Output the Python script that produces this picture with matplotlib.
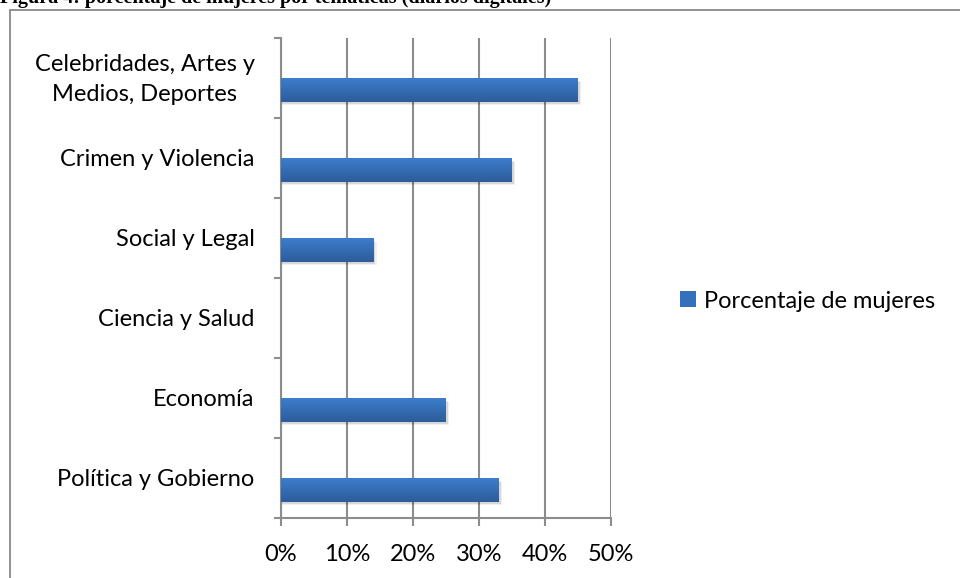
import numpy as np
import matplotlib
matplotlib.use('Agg')
import matplotlib.pyplot as plt
import matplotlib.transforms as mtransforms
from matplotlib.patches import Rectangle
from matplotlib.colors import LinearSegmentedColormap

categories = ['Política y Gobierno', 'Economía', 'Ciencia y Salud',
              'Social y Legal', 'Crimen y Violencia',
              'Celebridades, Artes y\nMedios, Deportes']
values = [33, 25, 0, 14, 35, 45]
series_name = 'Porcentaje de mujeres'
title = 'Figura 4: porcentaje de mujeres por temáticas (diarios digitales)'
xticks = [0, 10, 20, 30, 40, 50]

plt.rcParams['font.family'] = ['Lato', 'DejaVu Sans']
fs = 17

W, H = 960, 578
fig = plt.figure(figsize=(W / 100, H / 100), dpi=100)
ax = fig.add_axes([281 / W, (H - 518) / H, 330 / W, 480 / H])

grid_c = '#8c8c8c'
bar_top = '#3d7dcc'
bar_bot = '#2d5c9a'
cmap = LinearSegmentedColormap.from_list('bar', [bar_top, bar_bot])

offset = 0.15
height = 0.29
ypos = np.arange(len(categories))
for y, v in zip(ypos, values):
    if v <= 0:
        continue
    yc = y - offset
    # soft shadow under the bar
    for k, a in zip([1.0, 0.6], [0.06, 0.1]):
        ax.add_patch(Rectangle((0, yc - height / 2 - 0.045 * k), v + 0.5 * k, height,
                               facecolor='black', alpha=a, lw=0, zorder=2))
    bar = ax.barh(yc, v, height=height, color=bar_top, zorder=3)
    grad = np.linspace(0, 1, 50).reshape(-1, 1)
    im = ax.imshow(grad, cmap=cmap, aspect='auto', zorder=4,
                   extent=(0, v, yc - height / 2, yc + height / 2))
    im.set_clip_path(bar.patches[0])

ax.set_xlim(0, 50)
ax.set_ylim(-0.5, len(categories) - 0.5)
ax.set_xticks(xticks)
ax.set_xticklabels([f'{t}%' for t in xticks])
ax.set_yticks(ypos)
ax.set_yticklabels(categories, multialignment='center', linespacing=1.55)
ax.set_yticks(np.arange(len(categories) + 1) - 0.5, minor=True)
ax.tick_params(axis='y', which='major', length=0, pad=19, labelsize=fs)
ax.tick_params(axis='y', which='minor', length=5, width=1.5, color=grid_c, direction='out')
ax.tick_params(axis='x', length=6, width=1.5, color=grid_c, direction='out', pad=13, labelsize=fs)
ax.xaxis.grid(True, color=grid_c, lw=1.5, zorder=1)
ax.set_axisbelow(True)
for s in ['top', 'right']:
    ax.spines[s].set_visible(False)
for s in ['left', 'bottom']:
    ax.spines[s].set_color(grid_c)
    ax.spines[s].set_linewidth(1.5)

# two-line label sits a little higher in the original
shift = mtransforms.ScaledTranslation(0, 5 / 100, fig.dpi_scale_trans)
for lab in ax.get_yticklabels():
    if '\n' in lab.get_text():
        lab.set_transform(lab.get_transform() + shift)

leg_handle = Rectangle((0, 0), 1, 1, facecolor='#3570ba', edgecolor='none')
fig.legend([leg_handle], [series_name], loc='center left',
           bbox_to_anchor=(659 / W, 1 - 301 / H), frameon=False,
           fontsize=fs, handlelength=0.65, handleheight=0.65, handletextpad=0.35)

# outer chart frame (cut by the image edges)
fig.patches.append(Rectangle((10 / W, -0.1), 1.2, 1.1 - 10 / H, transform=fig.transFigure,
                             facecolor='none', edgecolor='#7f7f7f', lw=1.2))
fig.text(0.0, 1 - 3 / H, title, family='Liberation Serif', weight='bold',
         fontsize=14.5, va='baseline', ha='left')

fig.savefig('out.png', dpi=100)
